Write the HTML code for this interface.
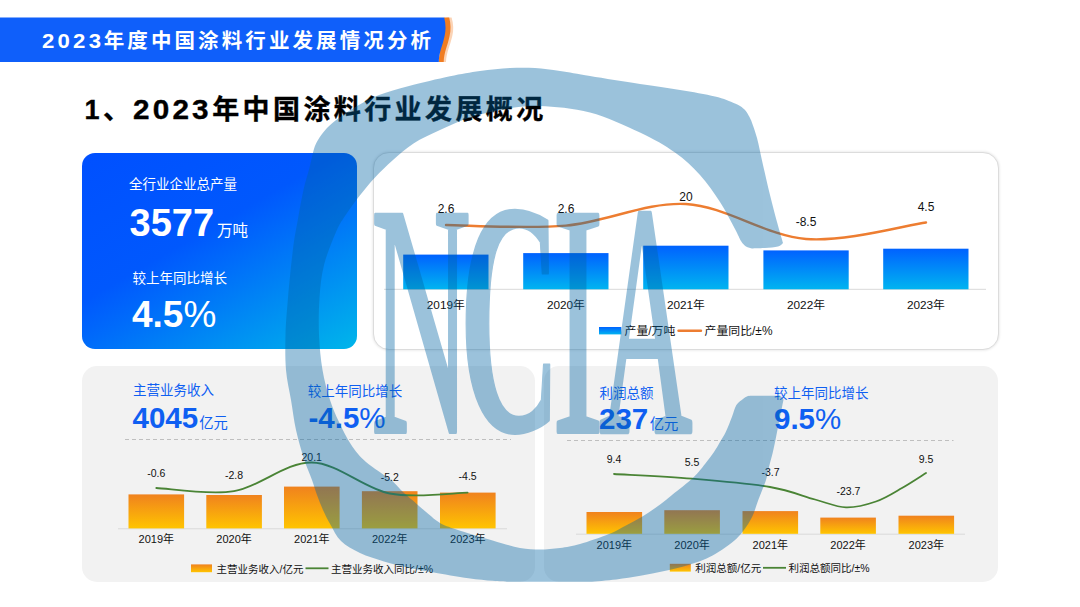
<!DOCTYPE html>
<html lang="zh-CN">
<head>
<meta charset="utf-8">
<title>2023年度中国涂料行业发展情况分析</title>
<style>
*{margin:0;padding:0;box-sizing:border-box}
html,body{width:1080px;height:607px;overflow:hidden;background:#fff}
body{position:relative;font-family:"Liberation Sans","Noto Sans CJK SC",sans-serif;color:#000}
.abs{position:absolute;white-space:nowrap;line-height:1}
svg{position:absolute;left:0;top:0;overflow:visible}
.banner-t{left:41.5px;top:30.5px;font-size:20.5px;font-weight:700;color:#fff;letter-spacing:3.1px}
.banner-t i{font-style:normal;display:inline-block;letter-spacing:3px;transform:scaleX(1.08);transform-origin:0 50%;margin-right:4.6px}
.h1{left:84.5px;top:97px;font-size:27px;font-weight:700;color:#000;letter-spacing:3.4px;-webkit-text-stroke:0.35px #000}
.h1 i{font-style:normal;display:inline-block;letter-spacing:2.9px;transform:scaleX(1.1);transform-origin:0 50%;margin-right:7.2px}
.card{position:absolute;left:82px;top:153px;width:275px;height:196px;border-radius:13px;background:linear-gradient(150deg,#0050ff 0%,#0058fd 42%,#006cfa 55%,#00b6ea 100%)}
.box{position:absolute;left:373px;top:152px;width:625.5px;height:198px;border-radius:16px;background:#fff;border:1.6px solid #dcdcdc;box-shadow:0 0 3px rgba(0,0,0,.14)}
.panel{position:absolute;top:366px;height:215.5px;border-radius:15px;background:#f2f2f2}
.w{color:#fff}
.b{color:#0f5ff2}
.lab{font-size:13.5px}
.big{font-weight:700}
.unit{font-weight:400}
svg text{font-family:"Liberation Sans","Noto Sans CJK SC",sans-serif;fill:#111}
.v1{font-size:12px;text-anchor:middle}
.y1{font-size:11.8px;text-anchor:middle}
.lg{font-size:11.9px}
.v2{font-size:10.5px;text-anchor:middle}
.y2{font-size:11px;text-anchor:middle}
.lg2{font-size:10.5px}
.ncia{font-family:"Liberation Serif",serif;font-size:100px;fill:inherit;vector-effect:non-scaling-stroke}
</style>
</head>
<body>
<svg width="1080" height="607" viewBox="0 0 1080 607">
<path d="M446.5,17.5 L451.6,17.5 C453.5,24 453.8,30 452.3,36 C450,46 446.5,52 446,62 L441,62 Z" fill="#fbd3b5"/>
<path d="M444,17.5 L449.2,17.5 C450.8,24 451,30 449.6,36 C447.5,46 444,52 443.7,62 L438.5,62 Z" fill="#f07d23"/>
<path d="M0,17.5 L444.2,17.5 C445.8,24 446,30 444.6,36 C442.5,46 439,52 438.8,62 L0,62 Z" fill="#0f5ffa"/>
</svg>
<div class="abs banner-t"><i>2023</i>年度中国涂料行业发展情况分析</div>
<div class="abs h1">1、<i>2023</i>年中国涂料行业发展概况</div>

<div class="card"></div>
<div class="abs w lab" style="left:129px;top:178px">全行业企业总产量</div>
<div class="abs w big" style="left:129.5px;top:203.5px;font-size:38px">3577<span class="unit" style="font-size:15.5px;margin-left:3px">万吨</span></div>
<div class="abs w lab" style="left:132.5px;top:272px">较上年同比增长</div>
<div class="abs w big" style="left:132px;top:295.5px;font-size:37px">4.5<span class="unit">%</span></div>

<div class="box"></div>
<div class="panel" style="left:82px;width:452.5px"></div>
<div class="panel" style="left:544px;width:454px"></div>

<div class="abs b lab" style="left:133px;top:384px">主营业务收入</div>
<div class="abs b big" style="left:132.5px;top:402.8px;font-size:29.5px">4045<span class="unit" style="font-size:14.3px;margin-left:1px">亿元</span></div>
<div class="abs b lab" style="left:307.7px;top:384.5px">较上年同比增长</div>
<div class="abs b big" style="left:308.5px;top:403.2px;font-size:29.5px">-4.5<span class="unit">%</span></div>

<div class="abs b lab" style="left:599.5px;top:386.5px">利润总额</div>
<div class="abs b big" style="left:599px;top:403.5px;font-size:29.5px">237<span class="unit" style="font-size:14.3px;margin-left:1.5px">亿元</span></div>
<div class="abs b lab" style="left:774px;top:386.5px">较上年同比增长</div>
<div class="abs b big" style="left:774px;top:404px;font-size:29.5px">9.5<span class="unit">%</span></div>

<svg class="charts" width="1080" height="607" viewBox="0 0 1080 607">
<defs><linearGradient id="gb" x1="0" y1="0" x2="0" y2="1"><stop offset="0" stop-color="#0062ff"/><stop offset="1" stop-color="#00b4f0"/></linearGradient><linearGradient id="go" x1="0" y1="0" x2="0" y2="1"><stop offset="0" stop-color="#f0821e"/><stop offset="1" stop-color="#ffc400"/></linearGradient></defs>
<line x1="384" y1="289.3" x2="986" y2="289.3" stroke="#d9d9d9" stroke-width="1"/>
<rect x="403.2" y="254.6" width="85.3" height="34.7" fill="url(#gb)"/>
<rect x="523.2" y="253.1" width="85.3" height="36.2" fill="url(#gb)"/>
<rect x="643.2" y="245.7" width="85.3" height="43.6" fill="url(#gb)"/>
<rect x="763.4" y="250.4" width="85.3" height="38.9" fill="url(#gb)"/>
<rect x="883.2" y="248.7" width="85.3" height="40.6" fill="url(#gb)"/>
<path d="M446.0,225.0 C466.0,225.1 526.0,229.1 566.0,225.6 C606.0,222.1 646.0,201.8 686.0,204.0 C726.0,206.2 766.0,235.9 806.0,239.0 C846.0,242.1 906.0,225.2 926.0,222.5" fill="none" stroke="#ed7d31" stroke-width="2.4" stroke-linecap="round"/>
<text class="v1" x="446" y="212.5">2.6</text>
<text class="v1" x="566" y="212.5">2.6</text>
<text class="v1" x="686" y="200.5">20</text>
<text class="v1" x="806" y="225.5">-8.5</text>
<text class="v1" x="926" y="210.5">4.5</text>
<text class="y1" x="445.8" y="308.5">2019年</text>
<text class="y1" x="565.9" y="308.5">2020年</text>
<text class="y1" x="685.9" y="308.5">2021年</text>
<text class="y1" x="806.0" y="308.5">2022年</text>
<text class="y1" x="925.9" y="308.5">2023年</text>
<rect x="599" y="327" width="22.3" height="7.4" fill="url(#gb)"/>
<text class="lg" x="624.5" y="334.8">产量/万吨</text>
<line x1="678.5" y1="330.7" x2="701" y2="330.7" stroke="#ed7d31" stroke-width="2.4" stroke-linecap="round"/>
<text class="lg" x="704.5" y="334.8">产量同比/±%</text>
<line x1="125" y1="439.5" x2="511" y2="439.5" stroke="#bfbfbf" stroke-width="1" stroke-dasharray="4 3"/>
<line x1="118" y1="528.8" x2="507" y2="528.8" stroke="#d9d9d9" stroke-width="1"/>
<rect x="128.5" y="494.4" width="55.6" height="34.0" fill="url(#go)"/>
<rect x="206.3" y="495" width="55.6" height="33.4" fill="url(#go)"/>
<rect x="284" y="486.6" width="55.6" height="41.8" fill="url(#go)"/>
<rect x="361.9" y="491.2" width="55.6" height="37.2" fill="url(#go)"/>
<rect x="440" y="492.6" width="55.6" height="35.8" fill="url(#go)"/>
<path d="M156.3,488.0 C169.2,488.5 208.1,495.4 234.0,491.2 C259.9,486.9 285.8,462.1 311.7,462.5 C337.6,462.9 363.7,488.5 389.7,493.5 C415.7,498.5 454.6,492.8 467.6,492.6" fill="none" stroke="#4a8435" stroke-width="1.8" stroke-linecap="round"/>
<text class="v2" x="156.3" y="476.5">-0.6</text>
<text class="v2" x="234" y="478.5">-2.8</text>
<text class="v2" x="311.7" y="460.5">20.1</text>
<text class="v2" x="389.7" y="481">-5.2</text>
<text class="v2" x="467.6" y="479.5">-4.5</text>
<text class="y2" x="156.3" y="542.8">2019年</text>
<text class="y2" x="234.1" y="542.8">2020年</text>
<text class="y2" x="311.8" y="542.8">2021年</text>
<text class="y2" x="389.7" y="542.8">2022年</text>
<text class="y2" x="467.8" y="542.8">2023年</text>
<rect x="191" y="564.4" width="21" height="7.8" fill="url(#go)"/>
<text class="lg2" x="216.5" y="572.5">主营业务收入/亿元</text>
<line x1="305.5" y1="568.3" x2="328.5" y2="568.3" stroke="#4a8435" stroke-width="1.8"/>
<text class="lg2" x="331" y="572.5">主营业务收入同比/±%</text>
<line x1="567" y1="440.5" x2="953.5" y2="440.5" stroke="#bfbfbf" stroke-width="1" stroke-dasharray="4 3"/>
<line x1="576" y1="534.1999999999999" x2="965" y2="534.1999999999999" stroke="#d9d9d9" stroke-width="1"/>
<rect x="586.5" y="512" width="55.6" height="21.8" fill="url(#go)"/>
<rect x="664.3" y="510.2" width="55.6" height="23.6" fill="url(#go)"/>
<rect x="742.5" y="511.1" width="55.6" height="22.7" fill="url(#go)"/>
<rect x="820.3" y="517.6" width="55.6" height="16.2" fill="url(#go)"/>
<rect x="898.5" y="515.7" width="55.6" height="18.1" fill="url(#go)"/>
<path d="M614.0,474.0 C627.0,474.8 666.0,476.5 692.0,478.7 C718.0,480.9 749.5,483.5 770.0,487.0 C790.5,490.5 802.3,496.1 815.0,499.5 C827.7,502.9 835.8,507.1 846.0,507.4 C856.2,507.7 866.7,504.7 876.0,501.5 C885.3,498.3 893.7,492.8 902.0,488.0 C910.3,483.2 922.0,475.5 926.0,473.0" fill="none" stroke="#4a8435" stroke-width="1.8" stroke-linecap="round"/>
<text class="v2" x="614" y="462.5">9.4</text>
<text class="v2" x="692" y="465.5">5.5</text>
<text class="v2" x="770.5" y="475.5">-3.7</text>
<text class="v2" x="848.5" y="495">-23.7</text>
<text class="v2" x="926" y="462.5">9.5</text>
<text class="y2" x="614.3" y="548.5">2019年</text>
<text class="y2" x="692.1" y="548.5">2020年</text>
<text class="y2" x="770.3" y="548.5">2021年</text>
<text class="y2" x="848.1" y="548.5">2022年</text>
<text class="y2" x="926.3" y="548.5">2023年</text>
<rect x="669.8" y="563.8" width="21" height="7.8" fill="url(#go)"/>
<text class="lg2" x="695.3" y="572">利润总额/亿元</text>
<line x1="763" y1="567.8" x2="786" y2="567.8" stroke="#4a8435" stroke-width="1.8"/>
<text class="lg2" x="788.5" y="572">利润总额同比/±%</text>
</svg>
<svg class="wm" width="1080" height="607" viewBox="0 0 1080 607">
<g fill="rgb(0,100,165)" stroke="rgb(0,100,165)" stroke-width="2" stroke-linejoin="round" opacity="0.39">
<path d="M783.0,243.0 C782.0,239.5 779.2,230.0 777.0,222.0 C774.8,214.0 772.3,204.5 770.0,195.0 C767.7,185.5 765.2,174.5 763.0,165.0 C760.8,155.5 759.0,145.5 757.0,138.0 C755.0,130.5 752.0,123.0 751.0,120.0 L751.0,120.0 C750.0,118.3 747.7,112.8 745.0,110.0 C742.3,107.2 740.0,105.8 735.0,103.5 C730.0,101.2 724.2,98.8 715.0,96.5 C705.8,94.2 692.5,92.1 680.0,90.0 C667.5,87.9 655.0,86.3 640.0,84.0 C625.0,81.7 603.3,78.2 590.0,76.0 C576.7,73.8 569.2,72.3 560.0,71.0 C550.8,69.7 543.3,68.5 535.0,68.0 C526.7,67.5 519.2,67.5 510.0,68.0 C500.8,68.5 490.0,69.6 480.0,71.0 C470.0,72.4 461.8,73.8 450.0,76.3 C438.2,78.8 420.8,82.9 409.0,86.0 C397.2,89.1 387.7,91.7 379.0,95.0 C370.3,98.3 363.7,102.2 357.0,106.0 C350.3,109.8 344.0,114.3 339.0,118.0 C334.0,121.7 330.5,124.3 327.0,128.0 C323.5,131.7 320.2,136.3 318.0,140.0 C315.8,143.7 315.1,145.5 313.7,150.0 C312.3,154.5 311.4,160.5 309.7,167.0 C308.0,173.5 305.7,180.2 303.7,189.0 C301.7,197.8 299.6,210.0 297.8,220.0 C296.0,230.0 294.6,236.0 293.0,249.0 C291.4,262.0 289.2,283.7 288.0,298.0 C286.8,312.3 285.8,323.0 285.5,335.0 C285.2,347.0 285.1,359.2 286.0,370.0 C286.9,380.8 289.3,390.0 291.0,400.0 C292.7,410.0 293.8,420.2 296.0,430.0 C298.2,439.8 301.3,450.7 304.0,459.0 C306.7,467.3 309.8,474.0 312.0,480.0 C314.2,486.0 315.2,490.0 317.0,495.0 C318.8,500.0 320.8,505.1 323.0,510.0 C325.2,514.9 327.4,519.3 330.4,524.5 C333.4,529.7 336.1,536.2 341.0,541.0 C345.9,545.8 352.8,549.6 360.0,553.0 C367.2,556.4 376.0,559.0 384.0,561.4 C392.0,563.8 399.9,565.6 408.0,567.4 C416.1,569.2 422.3,570.4 432.4,572.2 C442.5,574.0 458.5,576.8 468.5,578.2 C478.5,579.6 486.0,580.2 492.6,580.8 C499.2,581.4 505.4,581.6 508.0,581.8 L590,581.8 L590.0,581.8 C594.4,581.4 607.9,580.4 616.3,579.4 C624.7,578.4 632.4,577.2 640.4,575.8 C648.4,574.4 656.4,572.8 664.4,571.0 C672.4,569.2 680.5,567.6 688.5,565.0 C696.5,562.4 704.6,559.8 712.6,555.4 C720.6,551.0 730.3,544.6 736.7,538.5 C743.1,532.4 747.4,525.4 751.0,519.0 C754.6,512.6 755.8,506.5 758.3,500.0 C760.8,493.5 764.2,485.5 766.0,480.0 C767.8,474.5 767.8,472.1 769.0,467.0 C770.2,461.9 772.0,456.0 773.5,449.3 C775.0,442.6 776.5,434.4 778.0,427.0 C779.5,419.6 781.5,409.7 782.4,405.0 C783.3,400.3 783.6,400.5 783.2,399.0 C782.8,397.5 780.5,396.3 780.0,395.8 L780.0,395.8 C775.5,395.8 758.5,395.7 753.0,395.8 C747.5,395.9 748.7,396.0 747.0,396.5 C745.3,397.0 743.7,398.6 743.0,399.0 L743.0,399.0 C741.9,400.0 738.2,402.1 736.4,405.0 C734.6,407.9 733.7,412.3 732.0,416.7 C730.3,421.1 728.0,427.3 726.0,431.5 C724.0,435.7 722.0,438.6 720.0,442.0 C718.0,445.4 716.5,448.3 714.0,452.0 C711.5,455.7 708.4,459.8 705.0,464.0 C701.6,468.2 698.9,472.3 693.4,477.5 C687.9,482.7 677.9,490.2 672.0,495.0 C666.1,499.8 663.0,502.4 658.0,506.0 C653.0,509.6 647.5,513.4 642.0,516.7 C636.5,520.0 630.5,523.1 625.0,526.0 C619.5,528.9 616.5,531.0 609.0,534.0 C601.5,537.0 588.2,541.7 580.0,544.0 C571.8,546.3 566.7,547.1 560.0,548.0 C553.3,548.9 546.7,549.5 540.0,549.5 C533.3,549.5 527.9,549.5 520.0,548.0 C512.1,546.5 503.2,543.6 492.6,540.5 C482.0,537.4 465.3,532.4 456.5,529.5 C447.7,526.6 444.7,525.6 440.0,523.0 C435.3,520.4 432.3,517.3 428.4,514.1 C424.5,510.9 420.7,507.4 416.5,503.7 C412.3,500.0 407.2,495.9 403.0,492.0 C398.8,488.1 397.2,485.0 391.0,480.0 C384.8,475.0 372.7,467.9 366.0,462.0 C359.3,456.1 355.5,451.2 351.0,444.5 C346.5,437.8 342.5,429.4 339.0,422.0 C335.5,414.6 332.8,408.7 330.0,400.0 C327.2,391.3 324.3,380.8 322.5,370.0 C320.7,359.2 319.5,347.0 319.0,335.0 C318.5,323.0 318.7,309.7 319.5,298.0 C320.3,286.3 321.2,276.0 324.0,265.0 C326.8,254.0 332.5,240.2 336.0,232.0 C339.5,223.8 341.0,222.1 345.0,216.0 C349.0,209.9 355.0,201.7 360.0,195.3 C365.0,188.9 369.5,183.4 375.0,177.5 C380.5,171.6 386.6,165.7 393.0,160.0 C399.4,154.3 405.7,148.4 413.5,143.4 C421.3,138.4 430.6,134.3 440.0,130.0 C449.4,125.7 459.2,121.0 470.0,117.5 C480.8,114.0 493.3,110.9 505.0,109.0 C516.7,107.1 525.8,105.4 540.0,106.0 C554.2,106.6 573.3,108.1 590.0,112.5 C606.7,116.9 625.8,125.8 640.0,132.5 C654.2,139.2 665.0,145.4 675.0,152.5 C685.0,159.6 692.5,166.8 700.0,175.0 C707.5,183.2 714.2,193.0 720.0,202.0 C725.8,211.0 731.5,222.5 735.0,229.0 C738.5,235.5 739.2,238.1 741.0,241.0 C742.8,243.9 744.2,245.2 746.0,246.5 C747.8,247.8 751.0,248.2 752.0,248.5 L752.0,248.5 C754.2,248.4 760.7,248.3 765.0,248.0 C769.3,247.7 775.0,247.3 778.0,246.5 C781.0,245.7 782.2,243.6 783.0,243.0 Z" stroke="none"/>
<text class="ncia" font-weight="400" stroke-width="3.5" transform="translate(371.1,431.75) scale(1.381,3.31)" x="0" y="0">N</text><text class="ncia" font-weight="700" stroke-width="2" transform="translate(459.3,430.5) scale(1.4,3.33)" x="0" y="0">C</text><text class="ncia" font-weight="400" stroke-width="4" transform="translate(552.2,431.5) scale(1.545,3.3)" x="0" y="0">I</text><text class="ncia" font-weight="400" stroke-width="4.5" transform="translate(599.4,431.25) scale(1.285,3.295)" x="0" y="0">A</text>
</g>
</svg>
</body>
</html>
